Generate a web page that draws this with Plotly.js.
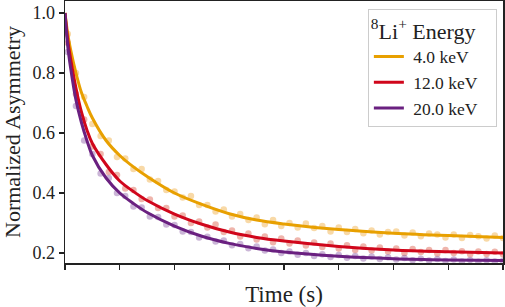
<!DOCTYPE html>
<html>
<head>
<meta charset="utf-8">
<script src="https://cdn.plot.ly/plotly-3.0.1.min.js"></script>
<style>html,body{margin:0;padding:0;background:#fff;}#chart{width:505px;height:307px;}</style>
</head>
<body>
<div id="chart"></div>
<script>
// Series names
const seriesNames = ["4.0 keV", "12.0 keV", "20.0 keV"];
const seriesColors = ["#E8A000", "#D0061B", "#6A2080"];
const pointColors = ["rgba(240,170,60,0.45)", "rgba(220,90,70,0.45)", "rgba(130,80,160,0.42)"];

// Measured points (time, s)
const tPoints = [0.05,0.2,0.35,0.5,0.65,0.8,0.95,1.1,1.25,1.4,1.55,1.7,1.85,2.0,2.15,2.3,2.45,2.6,2.75,2.9,3.05,3.2,3.35,3.5,3.65,3.8,3.95,4.1,4.25,4.4,4.55,4.7,4.85,5.0,5.15,5.3,5.45,5.6,5.75,5.9,6.05,6.2,6.35,6.5,6.65,6.8,6.95,7.1,7.25,7.4,7.55,7.7,7.85,8.0];
const orangePoints = [0.93,0.80,0.72,0.63,0.59,0.575,0.52,0.515,0.48,0.48,0.445,0.44,0.41,0.405,0.385,0.39,0.36,0.36,0.338,0.345,0.322,0.33,0.31,0.318,0.296,0.31,0.29,0.30,0.285,0.298,0.283,0.29,0.272,0.285,0.27,0.28,0.266,0.275,0.262,0.27,0.272,0.258,0.268,0.256,0.265,0.262,0.252,0.262,0.25,0.26,0.256,0.248,0.258,0.25];
const redPoints = [0.90,0.73,0.645,0.555,0.53,0.47,0.46,0.415,0.41,0.38,0.378,0.35,0.35,0.322,0.325,0.30,0.305,0.285,0.295,0.27,0.275,0.255,0.265,0.245,0.255,0.236,0.248,0.232,0.242,0.225,0.235,0.22,0.232,0.215,0.226,0.21,0.222,0.208,0.218,0.205,0.215,0.2,0.213,0.203,0.21,0.198,0.21,0.2,0.206,0.196,0.205,0.197,0.204,0.196];
const purplePoints = [0.87,0.69,0.575,0.53,0.465,0.45,0.40,0.39,0.355,0.352,0.322,0.32,0.295,0.293,0.272,0.27,0.252,0.254,0.238,0.242,0.226,0.23,0.216,0.222,0.208,0.212,0.2,0.205,0.194,0.2,0.19,0.196,0.187,0.193,0.184,0.19,0.182,0.188,0.18,0.186,0.178,0.183,0.176,0.181,0.175,0.18,0.173,0.178,0.172,0.177,0.171,0.176,0.172,0.174];

// Fit curves
const tLine = [0,0.05,0.1,0.2,0.3,0.4,0.5,0.75,1,1.25,1.5,2,2.5,3,3.5,4,5,6,7,8];
const orangeLine = [1.0,0.93,0.88,0.80,0.735,0.69,0.65,0.575,0.525,0.487,0.455,0.40,0.362,0.331,0.31,0.297,0.278,0.266,0.258,0.252];
const redLine = [1.0,0.91,0.85,0.75,0.67,0.61,0.565,0.495,0.44,0.405,0.375,0.33,0.296,0.27,0.252,0.24,0.222,0.21,0.204,0.2];
const purpleLine = [1.0,0.89,0.82,0.71,0.635,0.575,0.525,0.45,0.40,0.365,0.335,0.29,0.256,0.232,0.215,0.203,0.189,0.181,0.177,0.175];

const yTicks = [0.2,0.4,0.6,0.8,1.0];
const yTickText = ["0.2","0.4","0.6","0.8","1.0"];
const xTicks = [0,1,2,3,4,5,6,7,8];

const pts = [orangePoints, redPoints, purplePoints];
const lines = [orangeLine, redLine, purpleLine];
const pad = "\u00a0\u00a0\u00a0";
const traces = [];
pts.forEach((p, i) => traces.push({
  x: tPoints, y: p, mode: "markers", type: "scatter", showlegend: false,
  marker: {size: 6.5, color: pointColors[i], line: {width: 0}}, hoverinfo: "skip"
}));
lines.forEach((l, i) => traces.push({
  x: tLine, y: l, mode: "lines", type: "scatter", name: "\u00a0" + seriesNames[i] + pad,
  line: {color: seriesColors[i], width: 3, shape: "spline", smoothing: 1}
}));

const font = "Liberation Serif, Times New Roman, serif";
const layout = {
  width: 505, height: 307,
  margin: {l: 65, r: 2, t: 1, b: 44},
  paper_bgcolor: "#fff", plot_bgcolor: "#fff",
  font: {family: font, size: 18, color: "#222"},
  xaxis: {
    range: [0, 8], tickvals: xTicks, showticklabels: false,
    ticks: "outside", ticklen: 5, tickwidth: 1.3, tickcolor: "#222",
    showgrid: false, zeroline: false, showline: true, linecolor: "#222", linewidth: 1.5, mirror: true,
    title: {text: "Time (s)", font: {family: font, size: 23, color: "#222"}, standoff: 18}
  },
  yaxis: {
    range: [0.1667, 1.04], tickvals: yTicks, ticktext: yTickText,
    ticks: "outside", ticklen: 5, tickwidth: 1.3, tickcolor: "#222",
    tickfont: {family: font, size: 18, color: "#222"},
    showgrid: false, zeroline: false, showline: true, linecolor: "#222", linewidth: 1.5, mirror: true,
    title: {text: "Normalized Asymmetry", font: {family: font, size: 22, color: "#222"}, standoff: 7}
  },
  legend: {
    x: 0.986, y: 0.969, xanchor: "right", yanchor: "top",
    bgcolor: "#fff", bordercolor: "#ccc", borderwidth: 1,
    font: {family: font, size: 17.5, color: "#222"},
    title: {text: "<sup>8</sup>Li<sup>+</sup> Energy", font: {family: font, size: 22, color: "#222"}},
    itemwidth: 30
  },
  showlegend: true
};
Plotly.newPlot("chart", traces, layout, {staticPlot: true, displayModeBar: false});
</script>
</body>
</html>
